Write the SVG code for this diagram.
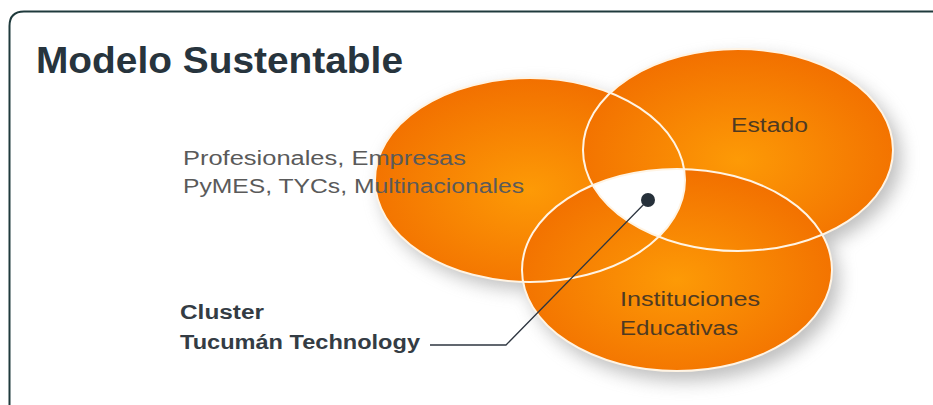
<svg xmlns="http://www.w3.org/2000/svg" width="933" height="405" viewBox="0 0 933 405">
  <style>
    .ttl { font-family: "Liberation Sans", Arial, sans-serif; font-weight: bold; font-size: 37px; fill: #27343d; }
    .lbl { font-family: "Liberation Sans", Arial, sans-serif; font-size: 20px; fill: #5a5a5a; }
    .in { font-family: "Liberation Sans", Arial, sans-serif; font-size: 20px; fill: #4f3a22; }
    .cl { font-family: "Liberation Sans", Arial, sans-serif; font-weight: bold; font-size: 20px; fill: #343c44; }
    .fillE { fill: url(#og); }
    .ring { fill: none; stroke: #fff4e4; stroke-width: 2; }
    .conn { fill: none; stroke: #2e3640; stroke-width: 1.3; }
  </style>
  <defs>
    <radialGradient id="og" cx="0.5" cy="0.55" r="0.55">
      <stop offset="0" stop-color="#fd9a06"/>
      <stop offset="1" stop-color="#f27000"/>
    </radialGradient>
    <filter id="sh" x="-20%" y="-30%" width="140%" height="160%">
      <feGaussianBlur stdDeviation="9"/>
    </filter>
    <clipPath id="cL"><ellipse cx="530" cy="180" rx="155" ry="102"/></clipPath>
    <clipPath id="cE"><ellipse cx="738" cy="150" rx="155" ry="101"/></clipPath>
  </defs>

  <rect x="0" y="0" width="933" height="405" fill="#ffffff"/>
  <path d="M9.5 405 V26 Q9.5 11.5 24 11.5 H933" fill="none" stroke="#1f3a3c" stroke-width="2"/>

  <text class="ttl" x="36" y="73" textLength="367" lengthAdjust="spacingAndGlyphs">Modelo Sustentable</text>

  <g id="shadows" filter="url(#sh)" fill="#8a8a8a" opacity="0.55">
    <ellipse cx="536" cy="188" rx="155" ry="102"/>
    <ellipse cx="746" cy="158" rx="155" ry="101"/>
    <ellipse cx="684" cy="280" rx="155" ry="101"/>
  </g>

  <g id="node-profesionales">
    <ellipse class="fillE" cx="530" cy="180" rx="155" ry="102"/>
  </g>
  <g id="node-estado">
    <ellipse class="fillE" cx="738" cy="150" rx="155" ry="101"/>
  </g>
  <g id="node-instituciones">
    <ellipse class="fillE" cx="677" cy="270" rx="155" ry="101"/>
  </g>
  <g id="node-cluster-center" clip-path="url(#cL)">
    <g clip-path="url(#cE)">
      <ellipse cx="677" cy="270" rx="155" ry="101" fill="#ffffff"/>
    </g>
  </g>
  <g id="rings">
    <ellipse class="ring" cx="530" cy="180" rx="155" ry="102"/>
    <ellipse class="ring" cx="738" cy="150" rx="155" ry="101"/>
    <ellipse class="ring" cx="677" cy="270" rx="155" ry="101"/>
  </g>

  <g id="labels">
    <text class="lbl" x="183" y="165" textLength="283" lengthAdjust="spacingAndGlyphs">Profesionales, Empresas</text>
    <text class="lbl" x="183" y="193" textLength="341" lengthAdjust="spacingAndGlyphs">PyMES, TYCs, Multinacionales</text>
    <text class="in" x="731" y="132" textLength="77" lengthAdjust="spacingAndGlyphs">Estado</text>
    <text class="in" x="620" y="306" textLength="140" lengthAdjust="spacingAndGlyphs">Instituciones</text>
    <text class="in" x="620" y="335" textLength="118" lengthAdjust="spacingAndGlyphs">Educativas</text>
  </g>

  <g id="node-cluster-label">
    <text class="cl" x="180" y="319" textLength="84" lengthAdjust="spacingAndGlyphs">Cluster</text>
    <text class="cl" x="180" y="349" textLength="240" lengthAdjust="spacingAndGlyphs">Tucumán Technology</text>
  </g>

  <g id="connectors">
    <polyline class="conn" points="430,345 506,345 648,200"/>
    <circle cx="648" cy="200" r="7" fill="#26303a"/>
  </g>
</svg>
